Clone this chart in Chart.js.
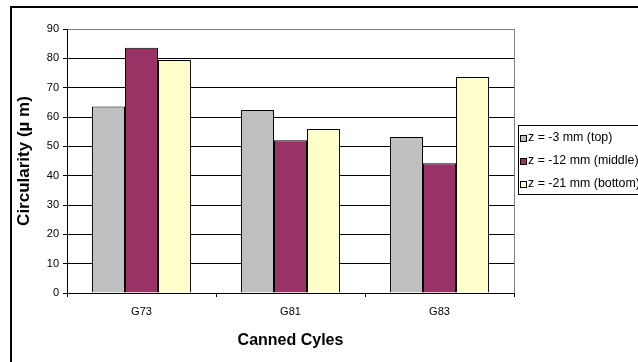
<!DOCTYPE html>
<html>
<head>
<meta charset="utf-8">
<script src="https://cdn.jsdelivr.net/npm/chart.js@4"></script>
<style>
  html, body { margin: 0; padding: 0; overflow: hidden; background: #fff; }
  canvas { display: block; }
</style>
</head>
<body>
<canvas id="chart" width="680" height="380"></canvas>
<script>
// Circularity measured at three depths for each canned drilling cycle
const categories = ['G73', 'G81', 'G83'];
const seriesLabels = ['z = -3 mm (top)', 'z = -12 mm (middle)', 'z = -21 mm (bottom)'];
const topValues = [63.6, 62.4, 53.2];
const middleValues = [83.6, 52.1, 44.2];
const bottomValues = [79.4, 55.9, 73.6];
const seriesColors = ['#C0C0C0', '#993366', '#FFFFCC'];
const yTicks = [0, 10, 20, 30, 40, 50, 60, 70, 80, 90];

const FONT = "'Liberation Sans', Arial, sans-serif";

// Outer frame of the chart object
const framePlugin = {
  id: 'frame',
  beforeDraw(chart) {
    const c = chart.ctx;
    c.save();
    c.fillStyle = '#fff';
    c.fillRect(0, 0, chart.width, chart.height);
    c.strokeStyle = '#000';
    c.lineWidth = 2;
    c.strokeRect(11, 7, chart.width, chart.height);
    c.restore();
  },
  beforeDatasetsDraw(chart) {
    const a = chart.chartArea;
    const c = chart.ctx;
    c.save();
    c.strokeStyle = '#808080';
    c.lineWidth = 1;
    c.beginPath();
    c.moveTo(Math.round(a.right) + 0.5, a.top);
    c.lineTo(Math.round(a.right) + 0.5, a.bottom);
    c.stroke();
    c.restore();
  }
};

// Boxed legend to the right of the plot
const boxLegendPlugin = {
  id: 'boxLegend',
  afterDraw(chart) {
    const c = chart.ctx;
    const x0 = 518, y0 = 125, rowH = 23;
    const sets = chart.data.datasets;
    c.save();
    c.strokeStyle = '#000';
    c.lineWidth = 1;
    c.strokeRect(x0 + 0.5, y0 + 0.5, 200, rowH * sets.length);
    c.font = '12.4px ' + FONT;
    c.textBaseline = 'middle';
    c.textAlign = 'left';
    sets.forEach((ds, i) => {
      const cy = y0 + 13 + i * rowH;
      c.fillStyle = ds.backgroundColor;
      c.fillRect(520, cy - 3, 6, 6);
      c.strokeRect(520.5, cy - 2.5, 6, 6);
      c.fillStyle = '#000';
      c.fillText(ds.label, 528, cy);
    });
    c.restore();
  }
};

new Chart(document.getElementById('chart'), {
  type: 'bar',
  data: {
    labels: categories,
    datasets: [
      { label: seriesLabels[0], data: topValues, backgroundColor: seriesColors[0] },
      { label: seriesLabels[1], data: middleValues, backgroundColor: seriesColors[1] },
      { label: seriesLabels[2], data: bottomValues, backgroundColor: seriesColors[2] }
    ].map(d => Object.assign(d, {
      borderColor: '#000',
      borderWidth: 1,
      categoryPercentage: 0.664,
      barPercentage: 1
    }))
  },
  plugins: [framePlugin, boxLegendPlugin],
  options: {
    responsive: false,
    animation: false,
    layout: { padding: { left: 11, top: 29, right: 166, bottom: 0 } },
    plugins: {
      legend: { display: false },
      tooltip: { enabled: false }
    },
    scales: {
      x: {
        offset: true,
        grid: {
          offset: true,
          drawOnChartArea: false,
          drawTicks: true,
          tickLength: 4,
          color: '#000',
          tickColor: '#000'
        },
        border: { color: '#000', width: 1 },
        ticks: { color: '#000', font: { family: FONT, size: 11 }, padding: 8 },
        title: {
          display: true,
          text: 'Canned Cyles',
          color: '#000',
          font: { family: FONT, size: 16, weight: 'bold' },
          padding: { top: 0, bottom: 30 }
        },
        afterFit(scale) { scale.height = 87; }
      },
      y: {
        min: 0,
        max: 90,
        afterBuildTicks(scale) { scale.ticks = yTicks.map(v => ({ value: v })); },
        grid: {
          color: ctx => (ctx.tick && ctx.tick.value === 90 ? '#808080' : '#000'),
          tickColor: '#000',
          tickLength: 4,
          drawTicks: true
        },
        border: { color: '#000', width: 1 },
        ticks: { color: '#000', font: { family: FONT, size: 11 }, padding: 4 },
        title: {
          display: true,
          text: 'Circularity (\u00B5 m)',
          color: '#000',
          font: { family: FONT, size: 17, weight: 'bold' },
          padding: { top: 3, bottom: 0 }
        },
        afterFit(scale) { scale.width = 56; }
      }
    }
  }
});
</script>
</body>
</html>
